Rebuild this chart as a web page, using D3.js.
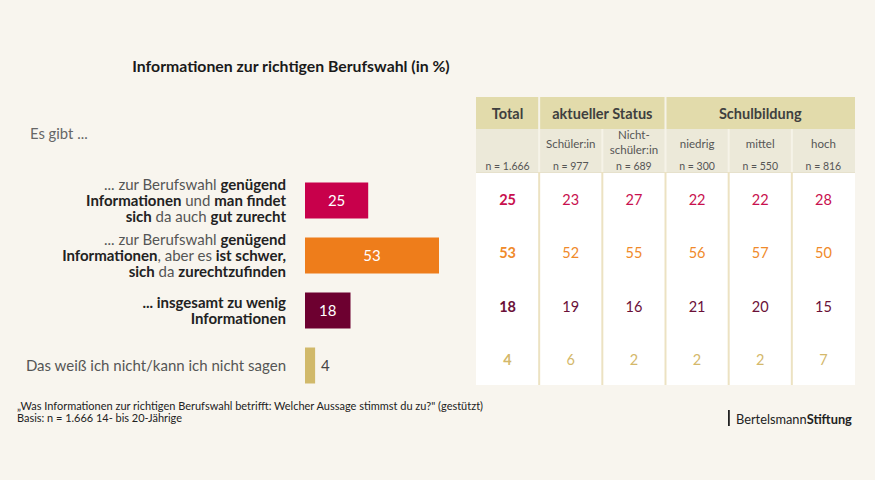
<!DOCTYPE html>
<html><head><meta charset="utf-8">
<script src="https://cdn.jsdelivr.net/npm/d3@7"></script>
<style>
html,body{margin:0;padding:0;background:#f8f5ee;}
svg{display:block;font-family:Lato,"Open Sans",sans-serif;}
</style></head>
<body><svg id="c" width="875" height="480"></svg>
<script>
const title = "Informationen zur richtigen Berufswahl (in %)";
const intro = "Es gibt ...";
const categories = ["genug_gut", "genug_schwer", "zu_wenig", "weiss_nicht"];
const labelLines = [
  [[["... zur Berufswahl ", false], ["genügend", true]], [["Informationen", true], [" und ", false], ["man findet", true]], [["sich", true], [" da auch ", false], ["gut zurecht", true]]],
  [[["... zur Berufswahl ", false], ["genügend", true]], [["Informationen", true], [", aber es ", false], ["ist schwer,", true]], [["sich", true], [" da ", false], ["zurechtzufinden", true]]],
  [[["... insgesamt zu wenig", true]], [["Informationen", true]]],
  [[["Das weiß ich nicht/kann ich nicht sagen", false]]]
];
const totalValues = [25, 53, 18, 4];
const colors = ["#c8004b", "#ee7d1b", "#6d0030", "#d1b96a"];
const textColors = ["#c8104e", "#f08a2a", "#6b1038", "#d4b86a"];
const groupHeaders = [["Total", 1], ["aktueller Status", 2], ["Schulbildung", 3]];
const columns = [[""], ["Schüler:in"], ["Nicht-", "schüler:in"], ["niedrig"], ["mittel"], ["hoch"]];
const nLabels = ["n = 1.666", "n = 977", "n = 689", "n = 300", "n = 550", "n = 816"];
const tableValues = [
  [25, 23, 27, 22, 22, 28],
  [53, 52, 55, 56, 57, 50],
  [18, 19, 16, 21, 20, 15],
  [4, 6, 2, 2, 2, 7]
];
const footnote1 = "„Was Informationen zur richtigen Berufswahl betrifft: Welcher Aussage stimmst du zu?\" (gestützt)";
const footnote2 = "Basis: n = 1.666 14- bis 20-Jährige";

const svg = d3.select("#c");
svg.append("rect").attr("width", 875).attr("height", 480).attr("fill", "#f8f5ee");

// title
svg.append("text").attr("x", 291).attr("y", 72).attr("text-anchor", "middle")
  .attr("font-size", 15.8).attr("font-weight", 700).attr("fill", "#1a1a1a").text(title);
svg.append("text").attr("x", 30).attr("y", 139).attr("font-size", 14.8)
  .attr("fill", "#666").text(intro);

// bars
const x = d3.scaleLinear().domain([0, 53]).range([0, 134]);
const y = d3.scalePoint().domain(categories).range([200.5, 365.5]);
const barH = 36, x0 = 305;
const g = svg.append("g");
categories.forEach((c, i) => {
  const cy = y(c);
  g.append("rect").attr("x", x0).attr("y", cy - barH / 2)
    .attr("width", x(totalValues[i])).attr("height", barH).attr("fill", colors[i]);
  const inside = x(totalValues[i]) > 25;
  g.append("text")
    .attr("x", inside ? x0 + x(totalValues[i]) / 2 : x0 + x(totalValues[i]) + 6)
    .attr("y", cy + 5.5).attr("text-anchor", inside ? "middle" : "start")
    .attr("font-size", 15).attr("fill", inside ? "#fff" : "#444").text(totalValues[i]);
  const lines = labelLines[i];
  const lh = 16;
  const startY = cy + 5.5 - (lines.length - 1) * lh / 2;
  lines.forEach((segs, li) => {
    const t = g.append("text").attr("x", 286).attr("y", startY + li * lh)
      .attr("text-anchor", "end").attr("font-size", 15);
    segs.forEach(([s, b]) => {
      t.append("tspan").attr("font-weight", b ? 700 : 400)
        .attr("fill", b ? "#222" : "#555").text(s);
    });
  });
});

// table
const tx = d3.scaleBand().domain(d3.range(6)).range([476, 855]);
const cw = tx.bandwidth();
const ty = d3.scalePoint().domain(d3.range(4)).range([200, 360]);
const tb = svg.append("g");
tb.append("rect").attr("x", 476).attr("y", 97).attr("width", 379).attr("height", 32).attr("fill", "#e2dbab");
tb.append("rect").attr("x", 476).attr("y", 129).attr("width", 379).attr("height", 43).attr("fill", "#ece9d9");
tb.append("rect").attr("x", 476).attr("y", 172).attr("width", 379).attr("height", 213).attr("fill", "#ffffff");
tb.append("line").attr("x1", 476).attr("x2", 855).attr("y1", 172.5).attr("y2", 172.5).attr("stroke", "#e6e1cc").attr("stroke-width", 1);
// column separators
d3.range(1, 6).forEach(ci => {
  const xx = tx(ci);
  const isGroup = ci === 1 || ci === 3;
  tb.append("line").attr("x1", xx).attr("x2", xx).attr("y1", isGroup ? 97 : 129).attr("y2", 172)
    .attr("stroke", "#f6f3e8").attr("stroke-width", 2);
  tb.append("line").attr("x1", xx).attr("x2", xx).attr("y1", 172).attr("y2", 385)
    .attr("stroke", "#ece2c2").attr("stroke-width", 2);
});
// group headers
let ci = 0;
groupHeaders.forEach(([name, span]) => {
  const cx = tx(ci) + span * cw / 2;
  tb.append("text").attr("x", cx).attr("y", 119).attr("text-anchor", "middle")
    .attr("font-size", 14.5).attr("font-weight", 700).attr("fill", "#3f3f3f").text(name);
  ci += span;
});
columns.forEach((lines, i) => {
  const cx = tx(i) + cw / 2;
  lines.forEach((l, li) => {
    const yy = lines.length === 1 ? 148 : 139 + li * 15;
    tb.append("text").attr("x", cx).attr("y", yy).attr("text-anchor", "middle")
      .attr("font-size", 11.5).attr("fill", "#555").text(l);
  });
  tb.append("text").attr("x", cx).attr("y", 169.5).attr("text-anchor", "middle")
    .attr("font-size", 10.5).attr("fill", "#555").text(nLabels[i]);
});
tableValues.forEach((row, ri) => {
  row.forEach((v, i) => {
    tb.append("text").attr("x", tx(i) + cw / 2).attr("y", ty(ri) + 5)
      .attr("text-anchor", "middle").attr("font-size", 14.5)
      .attr("font-weight", i === 0 ? 700 : 400).attr("fill", textColors[ri]).text(v);
  });
});

// footnotes
svg.append("text").attr("x", 17).attr("y", 410).attr("font-size", 11).attr("fill", "#222")
  .attr("textLength", 466).attr("lengthAdjust", "spacingAndGlyphs").text(footnote1);
svg.append("text").attr("x", 17).attr("y", 422).attr("font-size", 11).attr("fill", "#222")
  .attr("textLength", 165).attr("lengthAdjust", "spacingAndGlyphs").text(footnote2);

// logo
svg.append("rect").attr("x", 728).attr("y", 410).attr("width", 1.8).attr("height", 16).attr("fill", "#222");
const logo = svg.append("text").attr("x", 736).attr("y", 423.5).attr("font-size", 12.8).attr("fill", "#222");
logo.append("tspan").attr("font-weight", 400).text("Bertelsmann");
logo.append("tspan").attr("font-weight", 700).text("Stiftung");
</script></body></html>
